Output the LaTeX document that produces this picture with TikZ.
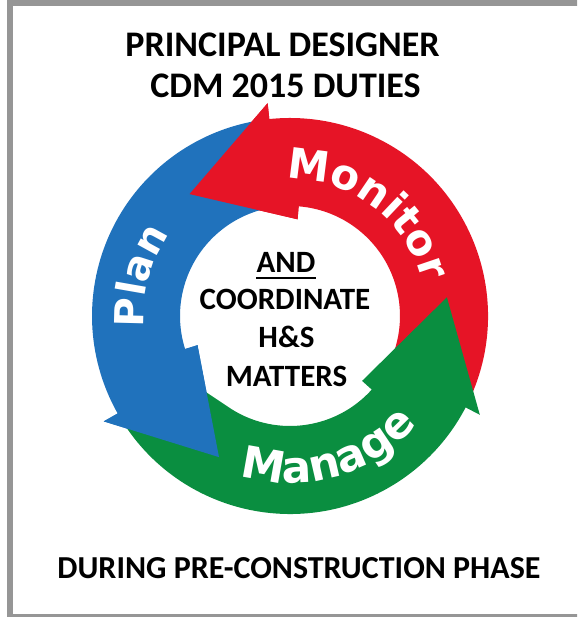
\documentclass[tikz,border=0pt]{standalone}
\usepackage{fontspec}
\setmainfont{Carlito}
\newfontfamily\ringfont{DejaVu Sans}
\usetikzlibrary{decorations.text,calc}
\definecolor{redc}{RGB}{230,20,38}
\definecolor{bluec}{RGB}{32,114,188}
\definecolor{greenc}{RGB}{10,142,64}
\definecolor{framec}{RGB}{150,150,150}
\begin{document}
\begin{tikzpicture}[x=1pt,y=1pt,
  title/.style={font=\fontsize{36}{42}\selectfont\bfseries, inner sep=0pt, anchor=base},
  bottomtitle/.style={font=\fontsize{32}{38}\selectfont\bfseries, inner sep=0pt, anchor=base},
  mid/.style={font=\fontsize{31}{36}\selectfont\bfseries, inner sep=0pt, anchor=base},
  ringlabel/.style={decorate, decoration={text along path, text align=center, text={#1}}}
  ]
\useasboundingbox (0,0) rectangle (577,617);
\begin{scope}
  \clip (0,0) rectangle (577,617);
  \fill[white] (0,0) rectangle (577,617);
  \draw[framec, line width=6pt] (10,0) rectangle (800,613.5);
\end{scope}

\begin{scope}[shift={(290,301)}]
  % Monitor (red)
  \fill[redc] (-25:198) arc[start angle=-25, end angle=96, radius=198] -- (96:214) -- (129.5:158) -- (85.5:97) -- (85.5:110) arc[start angle=85.5, end angle=-22, radius=110] -- cycle;
  % Plan (blue)
  \fill[bluec] (98.5:198) arc[start angle=98.5, end angle=209.5, radius=198] -- (209.5:214) -- (243.3:158) -- (197.5:97) -- (197.5:110) arc[start angle=197.5, end angle=103, radius=110] -- cycle;
  % Manage (green)
  \fill[greenc] (212:198) arc[start angle=212, end angle=332.5, radius=198] -- (332.5:214) -- (366.8:158) -- (318:97) -- (318:110) arc[start angle=318, end angle=235, radius=110] -- (221:114) -- cycle;
  % heads on top of the tails they cover
  \fill[redc] (96:198) -- (96:214) -- (129.5:158) -- (85.5:97) -- (85.5:110) -- cycle;
  \fill[bluec] (209.5:198) -- (209.5:214) -- (243.3:158) -- (197.5:97) -- (197.5:110) -- cycle;

  \path[ringlabel={|\ringfont\bfseries\fontsize{42}{42}\selectfont\color{white}|Monitor}]
    (118:137) arc[start angle=118, end angle=-12, radius=137];
  \path[ringlabel={|\ringfont\bfseries\fontsize{40}{40}\selectfont\color{white}|Plan}]
    (205:146) arc[start angle=205, end angle=125, radius=146];
  \path[ringlabel={|\ringfont\bfseries\fontsize{44}{44}\selectfont\color{white}|Manage}]
    (236:167) arc[start angle=236, end angle=336, radius=167];
\end{scope}

\node[title] (t1) at (282.5,560) {PRINCIPAL DESIGNER};
\node[title] (t2) at (285.5,519.5) {CDM 2015 DUTIES};
\node[bottomtitle] (t3) at (299,38) {DURING PRE-CONSTRUCTION PHASE};
\node[mid] (and) at (286,344) {AND};
\node[mid] (coord) at (285,307) {COORDINATE};
\node[mid] (hs) at (286.5,269) {H\&S};
\node[mid] (matters) at (286.5,230) {MATTERS};
\draw[line width=2pt] ($(and.base west)+(0,-5)$) -- ($(and.base east)+(0,-5)$);
\end{tikzpicture}
\end{document}
